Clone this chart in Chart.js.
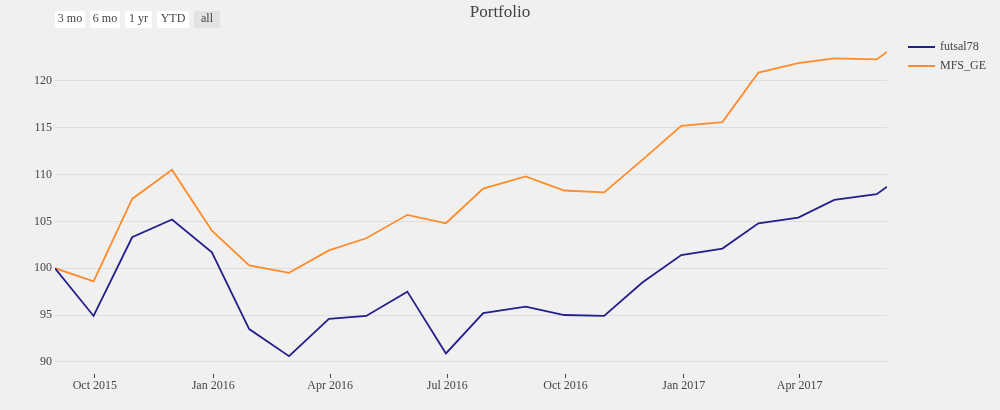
<!DOCTYPE html>
<html>
<head>
<meta charset="utf-8">
<script src="https://cdn.jsdelivr.net/npm/chart.js@4.4.1/dist/chart.umd.min.js"></script>
<style>
    body { margin: 0; background: #f0f0f0; }
    #wrap { position: relative; width: 1000px; height: 410px; }
    .rs { position: absolute; top: 11px; height: 17px; line-height: 17px; font: 12px "Liberation Serif", serif; color: #444; background: #fff; border-radius: 2px; text-align: center; }
    .rs.active { background: #e2e2e2; }
</style>
</head>
<body>
<div id="wrap">
    <canvas id="portfolioChart" width="1000" height="410"></canvas>
    <div class="rs" style="left:55px;width:30px">3 mo</div>
    <div class="rs" style="left:90px;width:30px">6 mo</div>
    <div class="rs" style="left:125px;width:27px">1 yr</div>
    <div class="rs" style="left:157px;width:32px">YTD</div>
    <div class="rs active" style="left:194px;width:26px">all</div>
</div>
<script>
// Month-end dates
const dates = [
    "2015-08-31", "2015-09-30", "2015-10-30", "2015-11-30", "2015-12-31",
    "2016-01-29", "2016-02-29", "2016-03-31", "2016-04-29", "2016-05-31",
    "2016-06-30", "2016-07-29", "2016-08-31", "2016-09-30", "2016-10-31",
    "2016-11-30", "2016-12-30", "2017-01-31", "2017-02-28", "2017-03-31",
    "2017-04-28", "2017-05-31", "2017-06-08"
];

// Series values
const futsal78 = [100.0, 94.9, 103.3, 105.2, 101.7, 93.5, 90.6, 94.6, 94.9, 97.5,
    90.9, 95.2, 95.9, 95.0, 94.9, 98.5, 101.4, 102.1, 104.8, 105.4,
    107.3, 107.9, 108.7];
const mfsGE = [100.0, 98.6, 107.4, 110.5, 104.0, 100.3, 99.5, 101.9, 103.2, 105.7,
    104.8, 108.5, 109.8, 108.3, 108.1, 111.6, 115.2, 115.6, 120.9, 121.9,
    122.4, 122.3, 123.1];

// Tick labels
const xTickDates = ["2015-10-01", "2016-01-01", "2016-04-01", "2016-07-01", "2016-10-01", "2017-01-01", "2017-04-01"];
const yTicks = [90, 95, 100, 105, 110, 115, 120];

const monthNames = ["Jan", "Feb", "Mar", "Apr", "May", "Jun", "Jul", "Aug", "Sep", "Oct", "Nov", "Dec"];
const toMs = (s) => Date.parse(s + "T00:00:00Z");

function formatDate(ms) {
    const d = new Date(ms);
    return monthNames[d.getUTCMonth()] + " " + d.getUTCFullYear();
}

const serif = "'Liberation Serif', 'Times New Roman', serif";

const config = {
    type: "line",
    data: {
        datasets: [{
            label: "futsal78",
            data: dates.map((d, i) => ({ x: toMs(d), y: futsal78[i] })),
            borderColor: "#241f8a",
            backgroundColor: "#241f8a",
            borderWidth: 1.8,
            pointRadius: 0,
            tension: 0
        }, {
            label: "MFS_GE",
            data: dates.map((d, i) => ({ x: toMs(d), y: mfsGE[i] })),
            borderColor: "#ff8c2a",
            backgroundColor: "#ff8c2a",
            borderWidth: 1.8,
            pointRadius: 0,
            tension: 0
        }]
    },
    options: {
        responsive: false,
        animation: false,
        layout: { padding: { left: 0, right: 113, top: 36, bottom: 0 } },
        plugins: {
            title: { display: false },
            tooltip: { enabled: false },
            legend: { display: false }
        },
        scales: {
            x: {
                type: "linear",
                min: toMs(dates[0]),
                max: toMs(dates[dates.length - 1]),
                afterBuildTicks: (scale) => {
                    scale.ticks = xTickDates.map(d => ({ value: toMs(d) }));
                },
                afterFit: (scale) => { scale.height = 36; },
                ticks: {
                    callback: (v) => formatDate(v),
                    color: "#444",
                    font: { family: serif, size: 12 },
                    padding: 1,
                    maxRotation: 0,
                    autoSkip: false
                },
                grid: {
                    display: true,
                    drawOnChartArea: false,
                    drawTicks: true,
                    tickLength: 4,
                    color: "#444",
                    tickColor: "#444"
                },
                border: { display: false }
            },
            y: {
                min: 88.7,
                max: 124.8,
                afterBuildTicks: (scale) => {
                    scale.ticks = yTicks.map(v => ({ value: v }));
                },
                afterFit: (scale) => { scale.width = 55; },
                ticks: {
                    color: "#444",
                    font: { family: serif, size: 12 },
                    padding: 3
                },
                grid: {
                    color: "#dedede",
                    drawTicks: false
                },
                border: { display: false }
            }
        }
    },
    plugins: [{
        // Title and legend drawn like the reference
        id: "extras",
        afterDraw(chart) {
            const ctx = chart.ctx;
            ctx.save();
            ctx.fillStyle = "#444";
            ctx.font = "17px " + serif;
            ctx.textAlign = "center";
            ctx.textBaseline = "middle";
            ctx.fillText("Portfolio", 500, 13);

            ctx.font = "12px " + serif;
            ctx.textAlign = "left";
            chart.data.datasets.forEach((ds, i) => {
                const y = 47 + i * 19;
                ctx.strokeStyle = ds.borderColor;
                ctx.lineWidth = 2;
                ctx.beginPath();
                ctx.moveTo(908, y);
                ctx.lineTo(935, y);
                ctx.stroke();
                ctx.fillText(ds.label, 940, y);
            });
            ctx.restore();
        }
    }]
};

new Chart(document.getElementById("portfolioChart").getContext("2d"), config);
</script>
</body>
</html>
